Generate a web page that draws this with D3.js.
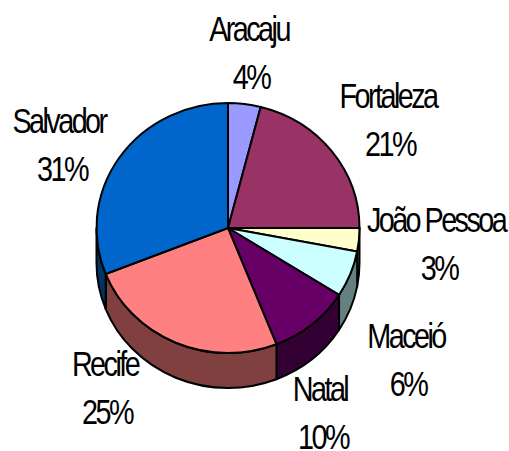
<!DOCTYPE html>
<html>
<head>
<meta charset="utf-8">
<script src="https://cdn.jsdelivr.net/npm/d3@7"></script>
<style>
html, body { margin: 0; background: #fff; }
text { font-family: "Liberation Sans", Arial, sans-serif; font-size: 36px; letter-spacing: -3.2px; fill: #000; text-anchor: middle; }
path { vector-effect: non-scaling-stroke; stroke: #000; stroke-width: 2; stroke-linejoin: round; }
</style>
</head>
<body>
<svg id="chart" width="509" height="451"></svg>
<script>
const cities = ["Aracaju", "Fortaleza", "João Pessoa", "Maceió", "Natal", "Recife", "Salvador"];
const shares = [4, 21, 3, 6, 10, 25, 31];
const topColors = ["#9999FF", "#993366", "#FFFFCC", "#CCFFFF", "#660066", "#FF8080", "#0066CC"];
const wallColors = ["#4D4D80", "#4D1A33", "#808066", "#668080", "#330033", "#804040", "#003366"];

const cx = 228, cy = 228, rx = 131.5, ry = 125, depth = 35;
const yScale = ry / rx;
const wallDepth = depth / yScale;

// label anchor points, name baseline then the percent sits one line lower
const labelX = [249, 388, 436, 406, 320, 105, 59];
const labelY = [41, 108, 232, 348, 401, 376, 133];
const pctShift = [2, 2, 3, 2, 3, 2, 3];
const lineGap = 48;
const squeeze = 0.8; // the labels are drawn narrow

const svg = d3.select("#chart");
const pie = d3.pie().sort(null).startAngle(0).endAngle(2 * Math.PI);
const arcs = pie(shares);
const arc = d3.arc().innerRadius(0).outerRadius(rx);

const g = svg.append("g").attr("transform", `translate(${cx},${cy}) scale(1,${yScale})`);

// side walls, only the front half of the pie shows them (90deg to 270deg from the top)
const toCanvas = a => a - Math.PI / 2;
const wallPath = d => {
    const a0 = Math.max(d.startAngle, Math.PI / 2), a1 = Math.min(d.endAngle, 3 * Math.PI / 2);
    if (a1 <= a0) return null;
    const p = d3.path();
    p.arc(0, 0, rx, toCanvas(a0), toCanvas(a1));
    p.arc(0, wallDepth, rx, toCanvas(a1), toCanvas(a0), true);
    p.closePath();
    return p.toString();
};

g.append("g").selectAll("path")
    .data(arcs.filter(wallPath))
    .join("path")
    .attr("d", wallPath)
    .attr("fill", d => wallColors[d.index]);

g.append("g").selectAll("path")
    .data(arcs)
    .join("path")
    .attr("d", arc)
    .attr("fill", d => topColors[d.index]);

const labels = svg.append("g").selectAll("g").data(cities).join("g");
labels.append("text")
    .attr("transform", (d, i) => `translate(${labelX[i]},${labelY[i]}) scale(${squeeze},1)`)
    .text(d => d);
labels.append("text")
    .attr("transform", (d, i) => `translate(${labelX[i] + pctShift[i]},${labelY[i] + lineGap}) scale(${squeeze},1)`)
    .text((d, i) => shares[i] + "%");
</script>
</body>
</html>
